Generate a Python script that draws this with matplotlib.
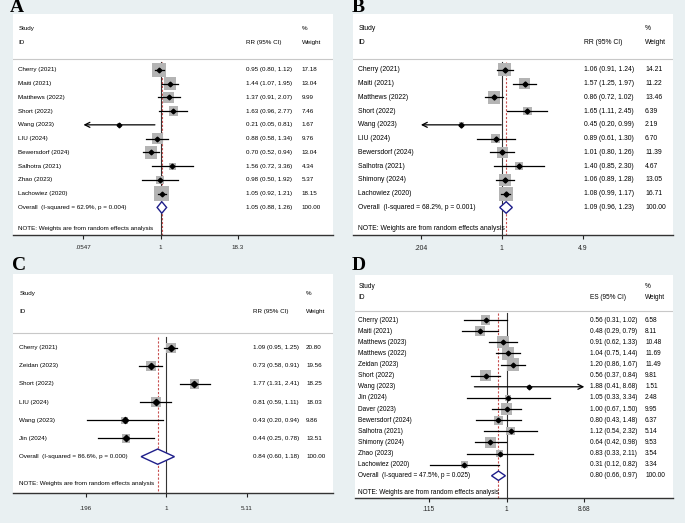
import numpy as np
import matplotlib
matplotlib.use('Agg')
import matplotlib.pyplot as plt
from matplotlib.patches import Polygon

plt.rcParams['font.family'] = ['Liberation Sans', 'DejaVu Sans']

# ---- data ----
a_names = ['Cherry (2021)', 'Maiti (2021)', 'Matthews (2022)', 'Short (2022)', 'Wang (2023)',
           'LIU (2024)', 'Bewersdorf (2024)', 'Salhotra (2021)', 'Zhao (2023)', 'Lachowiez (2020)']
a_est = [0.95, 1.44, 1.37, 1.63, 0.21, 0.88, 0.70, 1.56, 0.98, 1.05]
a_lo = [0.80, 1.07, 0.91, 0.96, 0.05, 0.58, 0.52, 0.72, 0.50, 0.92]
a_hi = [1.12, 1.95, 2.07, 2.77, 0.81, 1.34, 0.94, 3.36, 1.92, 1.21]
a_w = [17.18, 13.04, 9.99, 7.46, 1.67, 9.76, 13.04, 4.34, 5.37, 18.15]
a_overall = (1.05, 0.88, 1.26, 62.9, 0.004)
a_ticks = [0.0547, 1, 18.3]
a_ticklabels = ['.0547', '1', '18.3']

b_names = ['Cherry (2021)', 'Maiti (2021)', 'Matthews (2022)', 'Short (2022)', 'Wang (2023)',
           'LIU (2024)', 'Bewersdorf (2024)', 'Salhotra (2021)', 'Shimony (2024)', 'Lachowiez (2020)']
b_est = [1.06, 1.57, 0.86, 1.65, 0.45, 0.89, 1.01, 1.40, 1.06, 1.08]
b_lo = [0.91, 1.25, 0.72, 1.11, 0.20, 0.61, 0.80, 0.85, 0.89, 0.99]
b_hi = [1.24, 1.97, 1.02, 2.45, 0.99, 1.30, 1.26, 2.30, 1.28, 1.17]
b_w = [14.21, 11.22, 13.46, 6.39, 2.19, 6.70, 11.39, 4.67, 13.05, 16.71]
b_overall = (1.09, 0.96, 1.23, 68.2, 0.001)
b_ticks = [0.204, 1, 4.9]
b_ticklabels = ['.204', '1', '4.9']

c_names = ['Cherry (2021)', 'Zeidan (2023)', 'Short (2022)', 'LIU (2024)', 'Wang (2023)', 'Jin (2024)']
c_est = [1.09, 0.73, 1.77, 0.81, 0.43, 0.44]
c_lo = [0.95, 0.58, 1.31, 0.59, 0.20, 0.25]
c_hi = [1.25, 0.91, 2.41, 1.11, 0.94, 0.78]
c_w = [20.80, 19.56, 18.25, 18.03, 9.86, 13.51]
c_overall = (0.84, 0.60, 1.18, 86.6, 0.000)
c_ticks = [0.196, 1, 5.11]
c_ticklabels = ['.196', '1', '5.11']

d_names = ['Cherry (2021)', 'Maiti (2021)', 'Matthews (2023)', 'Matthews (2022)', 'Zeidan (2023)',
           'Short (2022)', 'Wang (2023)', 'Jin (2024)', 'Daver (2023)', 'Bewersdorf (2024)',
           'Salhotra (2021)', 'Shimony (2024)', 'Zhao (2023)', 'Lachowiez (2020)']
d_est = [0.56, 0.48, 0.91, 1.04, 1.20, 0.56, 1.88, 1.05, 1.00, 0.80, 1.12, 0.64, 0.83, 0.31]
d_lo = [0.31, 0.29, 0.62, 0.75, 0.86, 0.37, 0.41, 0.33, 0.67, 0.43, 0.54, 0.42, 0.33, 0.12]
d_hi = [1.02, 0.79, 1.33, 1.44, 1.67, 0.84, 8.68, 3.34, 1.50, 1.48, 2.32, 0.98, 2.11, 0.82]
d_w = [6.58, 8.11, 10.48, 11.69, 11.49, 9.81, 1.51, 2.48, 9.95, 6.37, 5.14, 9.53, 3.54, 3.34]
d_overall = (0.80, 0.66, 0.97, 47.5, 0.025)
d_ticks = [0.115, 1, 8.68]
d_ticklabels = ['.115', '1', '8.68']

# ---- figure ----
W, H = 685, 523
BG = '#e9f0f2'
fig = plt.figure(figsize=(W / 100, H / 100), dpi=100, facecolor=BG)


def forest(box, names, est, lo, hi, w, overall, ticks, ticklabels, measure,
           fs, cols, sq_k, pt_ms, pad):
    left, right, top, bottom, x1, ppl = box
    n = len(names)
    ax = fig.add_axes([left / W, 1 - bottom / H, (right - left) / W, (bottom - top) / H])
    ax.set_facecolor('white')
    ax.set_xscale('log')
    ax.set_xlim(np.exp((left - x1) / ppl), np.exp((right - x1) / ppl))
    ax.set_ylim(n + 2, -4.05)
    ax.set_yticks([])
    ax.minorticks_off()
    ax.set_xticks(ticks)
    ax.set_xticklabels(ticklabels)
    ax.tick_params(axis='x', length=3, width=0.8, pad=pad, labelsize=fs, colors='#222222')
    for s in ['top', 'left', 'right']:
        ax.spines[s].set_visible(False)
    ax.spines['bottom'].set_color('#333333')
    ax.spines['bottom'].set_linewidth(1.0)

    tmin, tmax = ticks[0], ticks[-1]
    y = np.arange(n)
    trans = ax.get_yaxis_transform()
    xn, xv, xw = cols

    # header
    ax.axhline(-0.8, color='#c8c8c8', lw=0.8)
    ax.text(xn, -3, 'Study', transform=trans, fontsize=fs, va='center')
    ax.text(xn, -2, 'ID', transform=trans, fontsize=fs, va='center')
    ax.text(xv, -2, measure + ' (95% CI)', transform=trans, fontsize=fs, va='center')
    ax.text(xw, -3, '%', transform=trans, fontsize=fs, va='center')
    ax.text(xw, -2, 'Weight', transform=trans, fontsize=fs, va='center')

    # reference lines
    ax.plot([1, 1], [-0.6, n + 2], color='#333333', lw=0.8, zorder=1)
    ax.plot([overall[0], overall[0]], [-0.6, n + 2], color='#c85050', lw=0.8,
            dashes=(2, 1.5), zorder=1)

    # weight boxes and estimates
    ax.scatter(est, y, s=np.array(w) * sq_k ** 2 * 0.5184, marker='s', color='#b4b4b4',
               edgecolors='none', zorder=2)
    for i in range(n):
        l, h = max(lo[i], tmin), min(hi[i], tmax)
        if lo[i] < tmin:
            ax.annotate('', xy=(tmin, y[i]), xytext=(h, y[i]),
                        arrowprops=dict(arrowstyle='->', lw=0.9, color='black',
                                        shrinkA=0, shrinkB=0, mutation_scale=9), zorder=3)
        elif hi[i] >= tmax:
            ax.annotate('', xy=(tmax, y[i]), xytext=(l, y[i]),
                        arrowprops=dict(arrowstyle='->', lw=0.9, color='black',
                                        shrinkA=0, shrinkB=0, mutation_scale=9), zorder=3)
        else:
            ax.plot([l, h], [y[i], y[i]], color='black', lw=0.9, zorder=3)
        ax.text(xn, y[i], names[i], transform=trans, fontsize=fs, va='center')
        ax.text(xv, y[i], '%.2f (%.2f, %.2f)' % (est[i], lo[i], hi[i]), transform=trans,
                fontsize=fs, va='center')
        ax.text(xw, y[i], '%.2f' % w[i], transform=trans, fontsize=fs, va='center')
    ax.plot(est, y, 'D', color='black', ms=pt_ms, zorder=4)

    # overall diamond
    oe, ol, oh, i2, p = overall
    hh = 0.42
    ax.add_patch(Polygon([(ol, n), (oe, n - hh), (oh, n), (oe, n + hh)], closed=True,
                         facecolor='white', edgecolor='#1f1f8a', lw=1.0, zorder=4))
    ax.text(xn, n, 'Overall  (I-squared = %.1f%%, p = %.3f)' % (i2, p), transform=trans,
            fontsize=fs, va='center')
    ax.text(xv, n, '%.2f (%.2f, %.2f)' % (oe, ol, oh), transform=trans, fontsize=fs, va='center')
    ax.text(xw, n, '100.00', transform=trans, fontsize=fs, va='center')
    ax.text(xn, n + 1.5, 'NOTE: Weights are from random effects analysis', transform=trans,
            fontsize=fs, va='center')
    return ax


forest((13, 333, 14, 235, 160.5, 26.5), a_names, a_est, a_lo, a_hi, a_w, a_overall,
       a_ticks, a_ticklabels, 'RR', 4.5, (0.017, 0.727, 0.902), 3.5, 2.4, 4.3)
forest((353, 673, 14, 235, 501.8, 50.9), b_names, b_est, b_lo, b_hi, b_w, b_overall,
       b_ticks, b_ticklabels, 'RR', 4.9, (0.017, 0.723, 0.9125), 3.4, 2.6, 4.3)
forest((13, 333, 274, 493, 166.3, 49.3), c_names, c_est, c_lo, c_hi, c_w, c_overall,
       c_ticks, c_ticklabels, 'RR', 4.5, (0.02, 0.751, 0.916), 2.2, 3.2, 6.5)
forest((355, 673, 275, 498, 506.5, 36.0), d_names, d_est, d_lo, d_hi, d_w, d_overall,
       d_ticks, d_ticklabels, 'ES', 4.7, (0.0104, 0.739, 0.912), 3.6, 2.4, 3.0)

# panel letters
for lab, px, py in [('A', 10, 12.5), ('B', 352, 12.5), ('C', 12, 270), ('D', 352, 270)]:
    fig.text(px / W, 1 - py / H, lab, fontsize=14, fontweight='bold',
             family='Liberation Serif', va='baseline')

fig.savefig('out.png', dpi=100, facecolor=BG)
